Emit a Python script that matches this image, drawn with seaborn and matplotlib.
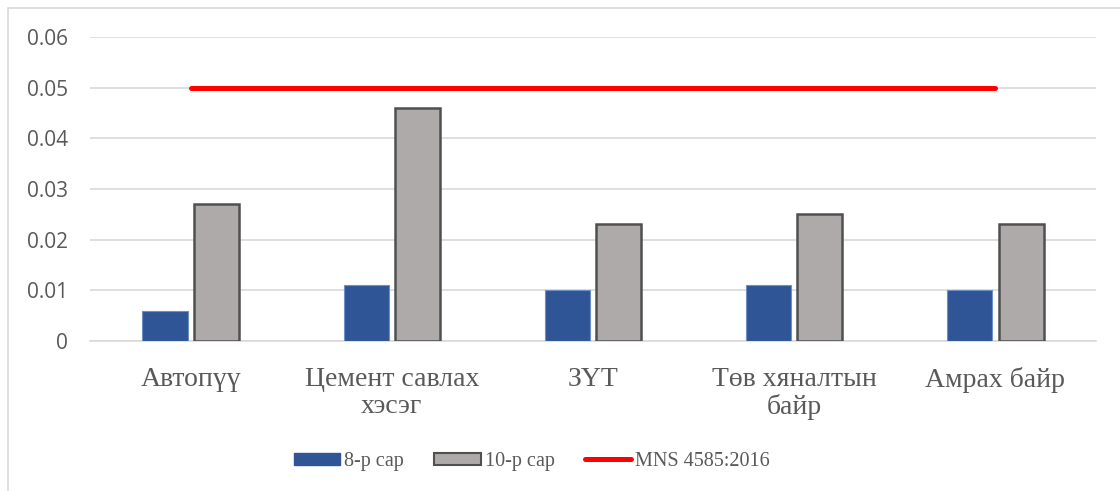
import matplotlib
matplotlib.use("Agg")
import matplotlib.pyplot as plt
import seaborn as sns
import numpy as np
import pandas as pd
from matplotlib.patches import Rectangle

# data
categories = ["Автопүү", "Цемент савлах\nхэсэг", "ЗҮТ", "Төв хяналтын\nбайр", "Амрах байр"]
aug_values = [0.006, 0.011, 0.010, 0.011, 0.010]
oct_values = [0.027, 0.046, 0.023, 0.025, 0.023]
mns_limit = [0.05, 0.05, 0.05, 0.05, 0.05]
series_names = ["8-р сар", "10-р сар"]
limit_name = "MNS 4585:2016"

df = pd.DataFrame({
    "location": categories * 2,
    "month": [series_names[0]] * len(categories) + [series_names[1]] * len(categories),
    "value": aug_values + oct_values,
})

sns.set_theme(style="white")
plt.rcParams["font.family"] = ["Liberation Serif", "DejaVu Serif"]

fig = plt.figure(figsize=(11.2, 4.91), dpi=100)
ax = fig.add_axes([0.0804, 0.3055, 0.8982, 0.6191])

# outer chart border (left and top visible in the reference)
fig.patches.append(Rectangle((8 / 1120, -0.1), 1.2, 1 - 8 / 491 + 0.1,
                             transform=fig.transFigure, fill=False,
                             edgecolor="#d9d9d9", linewidth=1.2, zorder=0))

sns.barplot(data=df, x="location", y="value", hue="month",
            palette=["#2F5597", "#AEAAAA"], saturation=1, width=0.51, gap=0.12,
            ax=ax, legend=False, zorder=3)

for patch, ec, lw in zip(ax.patches, ["#6f8fc8"] * 5 + ["#505050"] * 5, [0.8] * 5 + [1.8] * 5):
    patch.set_edgecolor(ec)
    patch.set_linewidth(lw)

ax.plot(np.arange(len(categories)), mns_limit, color="#ff0000", linewidth=3.6,
        solid_capstyle="round", zorder=4)

ax.set_xlim(-0.5, len(categories) - 0.5)
ax.set_ylim(0, 0.06)
ax.set_yticks([0, 0.01, 0.02, 0.03, 0.04, 0.05, 0.06])
ax.set_yticklabels(["0", "0.01", "0.02", "0.03", "0.04", "0.05", "0.06"],
                   family=["Open Sans", "DejaVu Sans"], fontsize=15, color="#595959")
ax.set_xticks(range(len(categories)))
ax.set_xticklabels(categories, fontsize=20, color="#595959", linespacing=1.08)
ax.tick_params(axis="x", length=0, pad=19)
ax.tick_params(axis="y", length=0, pad=16)

ax.grid(axis="y", color="#d9d9d9", linewidth=1.2, zorder=0)
ax.set_axisbelow(True)
for side in ["top", "right", "left"]:
    ax.spines[side].set_visible(False)
ax.spines["bottom"].set_color("#d9d9d9")
ax.spines["bottom"].set_linewidth(1.2)
ax.set_xlabel("")
ax.set_ylabel("")

handles = [
    Rectangle((0, 0), 1, 1, facecolor="#2F5597", edgecolor="#2F5597"),
    Rectangle((0, 0), 1, 1, facecolor="#AEAAAA", edgecolor="#505050", linewidth=1.5),
    plt.Line2D([0], [0], color="#ff0000", linewidth=3.6, solid_capstyle="round"),
]
leg = fig.legend(handles, series_names + [limit_name], loc="center",
                 bbox_to_anchor=(0.475, 0.06), ncol=3, frameon=False,
                 fontsize=14.5, handlelength=2.3, handleheight=0.6,
                 handletextpad=0.2, columnspacing=1.5)
for t in leg.get_texts():
    t.set_color("#595959")

fig.savefig("out.png", dpi=100)
